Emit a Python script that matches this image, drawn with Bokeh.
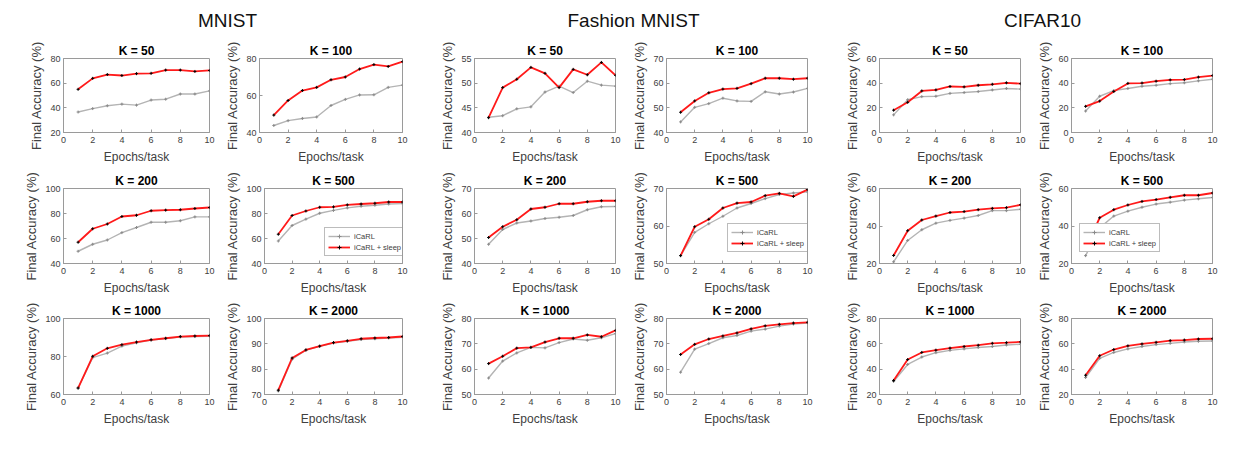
from bokeh.plotting import figure
from bokeh.layouts import row, column
from bokeh.models import Range1d, FixedTicker, Legend, LegendItem, Spacer
from bokeh.embed import file_html
from bokeh.resources import INLINE

# ---------------- data ----------------
epochs = [1, 2, 3, 4, 5, 6, 7, 8, 9, 10]
x_ticks = [0, 2, 4, 6, 8, 10]
datasets = ["MNIST", "Fashion MNIST", "CIFAR10"]
k_titles = [["K = 50", "K = 100"], ["K = 200", "K = 500"], ["K = 1000", "K = 2000"]]

# MNIST
mnist_k50_icarl = [36.6, 39.4, 41.7, 43.0, 42.2, 46.3, 47.0, 51.2, 51.2, 53.7]
mnist_k50_sleep = [55.0, 63.9, 67.0, 66.2, 67.7, 68.0, 70.6, 70.6, 69.5, 70.3]
mnist_k100_icarl = [43.8, 46.4, 47.6, 48.4, 54.6, 57.9, 60.3, 60.4, 64.4, 65.6]
mnist_k100_sleep = [49.4, 57.3, 62.7, 64.4, 68.5, 70.0, 74.3, 76.7, 75.7, 78.3]
mnist_k200_icarl = [49.8, 55.4, 58.8, 64.7, 68.8, 73.0, 73.0, 74.2, 77.3, 77.3]
mnist_k200_sleep = [57.0, 67.8, 71.6, 77.6, 78.6, 82.2, 82.7, 83.0, 84.0, 84.8]
mnist_k500_icarl = [58.0, 70.4, 75.5, 80.2, 82.5, 84.5, 85.8, 86.6, 87.6, 87.9]
mnist_k500_sleep = [63.4, 78.4, 82.0, 85.0, 85.3, 86.9, 87.6, 88.2, 89.2, 89.2]
mnist_k1000_icarl = [63.4, 79.4, 81.8, 85.5, 87.2, 88.6, 89.4, 90.3, 90.5, 90.6]
mnist_k1000_sleep = [63.4, 80.1, 84.3, 86.2, 87.6, 88.8, 89.6, 90.5, 90.8, 91.0]
mnist_k2000_icarl = [71.4, 83.9, 87.5, 89.0, 90.3, 91.0, 91.7, 92.0, 92.3, 92.6]
mnist_k2000_sleep = [71.7, 84.4, 87.6, 89.1, 90.5, 91.2, 92.0, 92.3, 92.5, 92.9]

# Fashion MNIST
fashion_k50_icarl = [43.1, 43.4, 44.8, 45.2, 48.2, 49.4, 48.1, 50.4, 49.6, 49.4]
fashion_k50_sleep = [43.0, 49.1, 50.8, 53.2, 52.0, 49.1, 52.8, 51.7, 54.2, 51.6]
fashion_k100_icarl = [44.3, 50.2, 51.7, 53.9, 52.8, 52.6, 56.5, 55.6, 56.4, 57.9]
fashion_k100_sleep = [48.2, 52.8, 56.1, 57.6, 57.9, 59.8, 62.0, 62.0, 61.6, 62.0]
fashion_k200_icarl = [47.7, 53.6, 56.2, 57.0, 58.0, 58.5, 59.2, 61.5, 62.7, 62.8]
fashion_k200_sleep = [50.4, 54.7, 57.5, 61.8, 62.5, 63.9, 63.9, 64.7, 65.1, 65.1]
fashion_k500_icarl = [52.1, 58.3, 60.6, 62.6, 64.8, 66.0, 67.3, 68.4, 68.8, 69.1]
fashion_k500_sleep = [52.1, 59.8, 61.8, 64.8, 66.1, 66.4, 68.1, 68.7, 67.9, 69.7]
fashion_k1000_icarl = [56.5, 63.2, 66.4, 68.6, 68.4, 70.5, 71.9, 71.4, 72.4, 74.0]
fashion_k1000_sleep = [62.2, 65.1, 68.3, 68.6, 70.7, 72.2, 72.2, 73.5, 72.8, 75.3]
fashion_k2000_icarl = [58.8, 67.9, 70.1, 72.4, 73.3, 75.0, 75.8, 77.0, 77.8, 78.2]
fashion_k2000_sleep = [65.8, 69.8, 71.9, 73.1, 74.3, 75.9, 77.1, 77.7, 78.2, 78.5]

# CIFAR10
cifar_k50_icarl = [14.3, 26.6, 29.1, 29.4, 31.7, 32.4, 33.2, 34.5, 35.7, 35.2]
cifar_k50_sleep = [18.1, 24.5, 33.7, 34.5, 37.3, 37.0, 38.3, 39.1, 40.3, 39.6]
cifar_k100_icarl = [17.4, 29.4, 34.0, 35.7, 37.5, 38.3, 39.6, 40.3, 41.9, 43.2]
cifar_k100_sleep = [21.2, 25.5, 33.2, 39.8, 40.1, 41.6, 42.6, 42.9, 44.9, 46.2]
cifar_k200_icarl = [20.9, 32.3, 38.0, 41.5, 43.0, 44.2, 45.6, 48.2, 48.2, 48.9]
cifar_k200_sleep = [24.3, 37.5, 43.2, 45.3, 47.2, 47.7, 48.7, 49.4, 49.8, 51.3]
cifar_k500_icarl = [24.2, 39.0, 45.3, 47.9, 50.0, 51.7, 52.7, 53.8, 54.5, 55.2]
cifar_k500_sleep = [28.0, 44.4, 48.7, 51.2, 53.1, 54.1, 55.3, 56.4, 56.4, 57.6]
cifar_k1000_icarl = [30.3, 43.7, 49.6, 53.0, 54.8, 56.0, 57.1, 57.9, 59.1, 59.7]
cifar_k1000_sleep = [31.1, 47.6, 53.2, 55.0, 56.6, 57.9, 58.9, 60.4, 60.9, 61.5]
cifar_k2000_icarl = [33.4, 48.6, 53.2, 56.0, 57.9, 59.4, 60.4, 61.5, 62.0, 62.2]
cifar_k2000_sleep = [35.2, 50.6, 55.5, 58.4, 59.9, 61.2, 62.5, 63.0, 63.8, 64.0]

# y axis ranges and ticks per panel (row, col within dataset)
mnist_yranges = [[(20, 80), (40, 80)], [(40, 100), (40, 100)], [(60, 100), (70, 100)]]
mnist_yticks = [[[20, 40, 60, 80], [40, 60, 80]], [[40, 60, 80, 100], [40, 60, 80, 100]],
                [[60, 80, 100], [70, 80, 90, 100]]]
fashion_yranges = [[(40, 55), (40, 70)], [(40, 70), (50, 70)], [(50, 80), (50, 80)]]
fashion_yticks = [[[40, 45, 50, 55], [40, 50, 60, 70]], [[40, 50, 60, 70], [50, 60, 70]],
                  [[50, 60, 70, 80], [50, 60, 70, 80]]]
cifar_yranges = [[(0, 60), (0, 60)], [(20, 60), (20, 60)], [(20, 80), (20, 80)]]
cifar_yticks = [[[0, 20, 40, 60], [0, 20, 40, 60]], [[20, 40, 60], [20, 40, 60]],
                [[20, 40, 60, 80], [20, 40, 60, 80]]]

mnist_series = [[(mnist_k50_icarl, mnist_k50_sleep), (mnist_k100_icarl, mnist_k100_sleep)],
                [(mnist_k200_icarl, mnist_k200_sleep), (mnist_k500_icarl, mnist_k500_sleep)],
                [(mnist_k1000_icarl, mnist_k1000_sleep), (mnist_k2000_icarl, mnist_k2000_sleep)]]
fashion_series = [[(fashion_k50_icarl, fashion_k50_sleep), (fashion_k100_icarl, fashion_k100_sleep)],
                  [(fashion_k200_icarl, fashion_k200_sleep), (fashion_k500_icarl, fashion_k500_sleep)],
                  [(fashion_k1000_icarl, fashion_k1000_sleep), (fashion_k2000_icarl, fashion_k2000_sleep)]]
cifar_series = [[(cifar_k50_icarl, cifar_k50_sleep), (cifar_k100_icarl, cifar_k100_sleep)],
                [(cifar_k200_icarl, cifar_k200_sleep), (cifar_k500_icarl, cifar_k500_sleep)],
                [(cifar_k1000_icarl, cifar_k1000_sleep), (cifar_k2000_icarl, cifar_k2000_sleep)]]

all_series = [mnist_series, fashion_series, cifar_series]
all_yranges = [mnist_yranges, fashion_yranges, cifar_yranges]
all_yticks = [mnist_yticks, fashion_yticks, cifar_yticks]
legend_labels = ["iCaRL", "iCaRL + sleep"]

# ---------------- styling / layout ----------------
FONT = "'Liberation Sans', sans-serif"
AX_C = "#9a9a9a"
TXT_C = "#404040"
GRAY_LINE = "#b4b4b4"
RED = "#ff1a1a"

COL_W = [222, 215, 192, 213, 192, 209]
LEFT_B = [63, 34, 32, 32, 32, 32]
RIGHT_B = [13, 35, 14, 35, 14, 31]
ROW_H = [130, 130, 148]
TOP_B = [17, 18, 18]
TOP_B_CIFAR = [14, 15, 16]
FRAME_H = 78
LEGEND_LOC = {0: (60, 7), 1: (61, 11), 2: (8, 11)}


def make_panel(d, r, c):
    col = 2 * d + c
    w, h = COL_W[col], ROW_H[r]
    top = TOP_B_CIFAR[r] if d == 2 else TOP_B[r]
    bottom = h - top - FRAME_H
    yr = all_yranges[d][r][c]
    yt = all_yticks[d][r][c]
    icarl, sleep = all_series[d][r][c]
    p = figure(width=w, height=h, x_range=Range1d(0, 10), y_range=Range1d(*yr),
               toolbar_location=None, output_backend="svg",
               min_border_left=LEFT_B[col], min_border_right=RIGHT_B[col],
               min_border_top=top, min_border_bottom=bottom,
               title=k_titles[r][c])
    p.title.align = "center"
    p.title.text_font = FONT
    p.title.text_font_size = "12px"
    p.title.text_font_style = "bold"
    p.title.text_color = "black"
    p.title.standoff = 2
    p.grid.visible = False
    p.outline_line_color = AX_C
    p.background_fill_color = "white"
    p.border_fill_color = "white"

    p.xaxis.ticker = FixedTicker(ticks=x_ticks)
    p.yaxis.ticker = FixedTicker(ticks=yt)
    p.xaxis.axis_label = "Epochs/task"
    p.yaxis.axis_label = "Final Accuracy (%)"
    for ax in (p.xaxis[0], p.yaxis[0]):
        ax.major_tick_in = 3
        ax.major_tick_out = 0
        ax.minor_tick_in = 0
        ax.minor_tick_out = 0
        ax.axis_line_color = AX_C
        ax.major_tick_line_color = AX_C
        ax.major_label_text_font = FONT
        ax.major_label_text_font_size = "9px"
        ax.major_label_text_color = TXT_C
        ax.axis_label_text_font = FONT
        ax.axis_label_text_font_style = "normal"
        ax.axis_label_text_color = TXT_C
    p.xaxis.major_label_standoff = 4
    p.xaxis.axis_label_standoff = 4
    p.xaxis.axis_label_text_font_size = "12px"
    p.yaxis.major_label_standoff = 3
    p.yaxis.axis_label_standoff = 3
    p.yaxis.axis_label_text_font_size = "13px"

    g_line = p.line(epochs, icarl, line_color=GRAY_LINE, line_width=1.4)
    g_pts = p.scatter(epochs, icarl, marker="cross", size=3, line_color="#8a8a8a", line_width=1)
    r_line = p.line(epochs, sleep, line_color=RED, line_width=1.8)
    r_pts = p.scatter(epochs, sleep, marker="cross", size=3, line_color="black", line_width=1)

    if r == 1 and c == 1:
        legend = Legend(items=[LegendItem(label=legend_labels[0], renderers=[g_line, g_pts]),
                               LegendItem(label=legend_labels[1], renderers=[r_line, r_pts])],
                        location=LEGEND_LOC[d])
        legend.label_text_font = FONT
        legend.label_text_font_size = "7.5px"
        legend.label_text_color = TXT_C
        legend.glyph_width = 22
        legend.glyph_height = 10
        legend.label_height = 10
        legend.label_standoff = 4
        legend.padding = 3
        legend.spacing = 1
        legend.margin = 0
        legend.border_line_color = "#7a7a7a"
        legend.border_line_width = 1
        legend.background_fill_color = "white"
        legend.background_fill_alpha = 1.0
        p.add_layout(legend)
    return p


def make_header(text, w):
    hp = figure(width=w, height=40, toolbar_location=None, output_backend="svg",
                x_axis_location=None, y_axis_location=None,
                min_border_left=0, min_border_right=0, min_border_top=32, min_border_bottom=0,
                title=text)
    hp.title.align = "center"
    hp.title.text_font = FONT
    hp.title.text_font_size = "19px"
    hp.title.text_font_style = "normal"
    hp.title.text_color = "#111111"
    hp.title.standoff = 4
    hp.grid.visible = False
    hp.outline_line_color = None
    return hp


header = row(make_header(datasets[0], 454), make_header(datasets[1], 358),
             Spacer(width=29, height=40), make_header(datasets[2], 402), spacing=0)

rows = [header]
for r in range(3):
    figs = []
    for d in range(3):
        for c in range(2):
            figs.append(make_panel(d, r, c))
    rows.append(row(*figs, spacing=0))

layout = column(*rows, spacing=0)

open("out.html", "w").write(file_html(layout, INLINE))
